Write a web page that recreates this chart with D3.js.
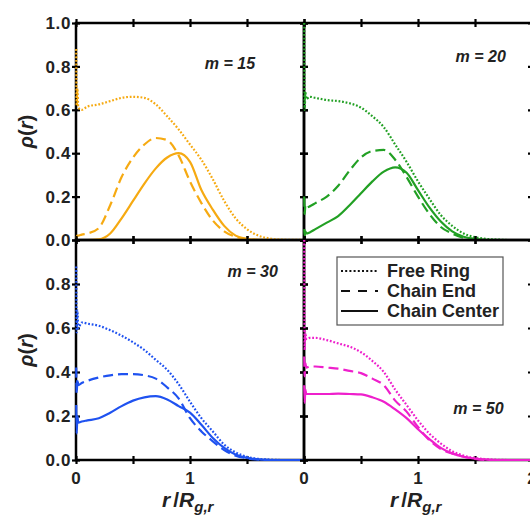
<!DOCTYPE html>
<html>
<head>
<meta charset="utf-8">
<script src="https://cdn.jsdelivr.net/npm/d3@7"></script>
<style>
  body { margin: 0; background: #fff; }
  svg { display: block; font-family: "Liberation Sans", Arial, sans-serif; }
</style>
</head>
<body>
<div id="chart"></div>
<script>
// radial positions (r / Rg,r) shared by every curve
var rGrid = [0.002, 0.006, 0.012, 0.02, 0.05, 0.1, 0.2, 0.3, 0.4, 0.5, 0.6, 0.7, 0.8, 0.9, 1.0, 1.1, 1.2, 1.3, 1.4, 1.5, 1.6, 1.7, 1.8, 2.0];

// m = 15
var freeRing15    = [0.88, 0.62, 0.70, 0.61, 0.60, 0.615, 0.625, 0.64, 0.655, 0.66, 0.655, 0.625, 0.57, 0.51, 0.44, 0.37, 0.28, 0.18, 0.10, 0.05, 0.02, 0.007, 0.002, 0];
var chainEnd15    = [0.01, 0.015, 0.02, 0.02, 0.025, 0.03, 0.055, 0.16, 0.29, 0.38, 0.44, 0.47, 0.46, 0.39, 0.27, 0.17, 0.09, 0.04, 0.015, 0.005, 0.001, 0, 0, 0];
var chainCenter15 = [0, 0, 0, 0, 0, 0, 0.003, 0.03, 0.10, 0.18, 0.26, 0.33, 0.38, 0.40, 0.36, 0.23, 0.14, 0.065, 0.02, 0.005, 0, 0, 0, 0];

// m = 20
var freeRing20    = [1.0, 0.60, 0.68, 0.65, 0.66, 0.655, 0.645, 0.64, 0.63, 0.61, 0.57, 0.52, 0.44, 0.36, 0.27, 0.19, 0.115, 0.065, 0.03, 0.013, 0.005, 0.002, 0, 0];
var chainEnd20    = [0.20, 0.12, 0.16, 0.15, 0.155, 0.17, 0.20, 0.25, 0.32, 0.38, 0.41, 0.415, 0.37, 0.29, 0.20, 0.12, 0.06, 0.03, 0.01, 0.003, 0, 0, 0, 0];
var chainCenter20 = [0.05, 0.02, 0.04, 0.03, 0.035, 0.05, 0.08, 0.11, 0.16, 0.215, 0.27, 0.315, 0.335, 0.31, 0.23, 0.15, 0.085, 0.04, 0.015, 0.005, 0, 0, 0, 0];

// m = 30
var freeRing30    = [0.88, 0.58, 0.68, 0.60, 0.625, 0.62, 0.61, 0.59, 0.565, 0.535, 0.50, 0.455, 0.41, 0.345, 0.265, 0.19, 0.13, 0.07, 0.035, 0.015, 0.005, 0.002, 0, 0];
var chainEnd30    = [0.42, 0.30, 0.37, 0.34, 0.35, 0.36, 0.375, 0.385, 0.39, 0.39, 0.385, 0.37, 0.33, 0.28, 0.19, 0.13, 0.085, 0.045, 0.02, 0.008, 0.002, 0, 0, 0];
var chainCenter30 = [0.25, 0.12, 0.20, 0.17, 0.175, 0.18, 0.19, 0.215, 0.245, 0.27, 0.285, 0.29, 0.275, 0.245, 0.215, 0.16, 0.10, 0.055, 0.025, 0.01, 0.003, 0, 0, 0];

// m = 50
var freeRing50    = [1.0, 0.50, 0.58, 0.55, 0.555, 0.555, 0.545, 0.53, 0.515, 0.49, 0.45, 0.40, 0.32, 0.25, 0.18, 0.12, 0.075, 0.04, 0.02, 0.009, 0.004, 0.001, 0, 0];
var chainEnd50    = [0.47, 0.38, 0.44, 0.42, 0.425, 0.425, 0.42, 0.415, 0.405, 0.395, 0.37, 0.34, 0.27, 0.22, 0.15, 0.09, 0.05, 0.03, 0.015, 0.005, 0, 0, 0, 0];
var chainCenter50 = [0.34, 0.26, 0.32, 0.30, 0.30, 0.30, 0.30, 0.302, 0.30, 0.298, 0.285, 0.265, 0.23, 0.19, 0.14, 0.095, 0.055, 0.03, 0.015, 0.006, 0.002, 0, 0, 0];

var panelLabels = ["m = 15", "m = 20", "m = 30", "m = 50"];
var seriesNames = ["Free Ring", "Chain End", "Chain Center"];
var yTickValues = [0, 0.2, 0.4, 0.6, 0.8, 1.0];
var xTickValues = [0, 0.5, 1, 1.5, 2];
var xLabelValues = [0, 1, 2];

var panelData = [
  [freeRing15, chainEnd15, chainCenter15],
  [freeRing20, chainEnd20, chainCenter20],
  [freeRing30, chainEnd30, chainCenter30],
  [freeRing50, chainEnd50, chainCenter50]
];

var colors = ["#f6aa12", "#22a024", "#1f52f0", "#ee20cc"];
var dashes = ["1.8,1.8", "10,5", null];

var svgWidth = 530, svgHeight = 523;
var left = 76, plotW = 228;
var rowTop = [23, 240], rowBottom = [240, 460];

var svg = d3.select("#chart")
  .append("svg")
  .attr("width", svgWidth)
  .attr("height", svgHeight);

// label positions in data units for each panel
var labelPos = [[1.35, 0.79], [1.55, 0.82], [1.55, 0.83], [1.53, 0.21]];

panelData.forEach(function(series, i) {
  var col = i % 2, row = Math.floor(i / 2);

  var xScale = d3.scaleLinear()
    .domain([0, 2])
    .range([left + col * plotW, left + (col + 1) * plotW]);

  var yScale = d3.scaleLinear()
    .domain([0, 1])
    .range([rowBottom[row], rowTop[row]]);

  var g = svg.append("g");

  // frame
  g.append("rect")
    .attr("x", xScale(0))
    .attr("y", yScale(1))
    .attr("width", xScale(2) - xScale(0))
    .attr("height", yScale(0) - yScale(1))
    .attr("fill", "none")
    .attr("stroke", "#000")
    .attr("stroke-width", 2.5);

  // ticks crossing the frame on all four sides
  var yAxisL = d3.axisLeft(yScale).tickValues(yTickValues).tickSize(4).tickFormat("");
  var yAxisR = d3.axisRight(yScale).tickValues(yTickValues).tickSize(4).tickFormat("");
  var xAxisB = d3.axisBottom(xScale).tickValues(xTickValues).tickSize(4).tickFormat("");
  var xAxisT = d3.axisTop(xScale).tickValues(xTickValues).tickSize(4).tickFormat("");

  [[yAxisL, xScale(0), 0], [yAxisR, xScale(2), 0], [xAxisB, 0, yScale(0)], [xAxisT, 0, yScale(1)]]
    .forEach(function(a) {
      var ax = g.append("g")
        .attr("transform", `translate(${a[1]}, ${a[2]})`)
        .call(a[0]);
      ax.select(".domain").remove();
      ax.selectAll(".tick line")
        .attr("stroke", "#000")
        .attr("stroke-width", 2.2);
      ax.selectAll(".tick line").each(function() {
        var l = d3.select(this);
        if (l.attr("x2") != null && +l.attr("x2") !== 0) l.attr("x1", -l.attr("x2"));
        if (l.attr("y2") != null && +l.attr("y2") !== 0) l.attr("y1", -l.attr("y2"));
      });
    });

  // y tick labels on the left column only
  if (col === 0) {
    g.selectAll(".ylab")
      .data(row === 0 ? yTickValues : yTickValues.slice(0, 5))
      .enter()
      .append("text")
      .attr("x", xScale(0) - 5)
      .attr("y", d => yScale(d))
      .attr("dy", "0.36em")
      .attr("text-anchor", "end")
      .attr("font-size", 17)
      .attr("font-weight", "bold")
      .attr("letter-spacing", 0.6)
      .attr("fill", "#222")
      .text(d => d.toFixed(1));

    g.append("text")
      .attr("transform", `translate(33, ${(yScale(0) + yScale(1)) / 2}) rotate(-90)`)
      .attr("text-anchor", "middle")
      .attr("font-size", 20)
      .attr("font-weight", "bold")
      .attr("fill", "#222")
      .html('<tspan font-style="italic">ρ</tspan>(<tspan font-style="italic">r</tspan>)');
  }

  // x tick labels and axis title on the bottom row
  if (row === 1) {
    g.selectAll(".xlab")
      .data(col === 0 ? xLabelValues.slice(0, 2) : xLabelValues)
      .enter()
      .append("text")
      .attr("x", d => xScale(d))
      .attr("y", yScale(0) + 24)
      .attr("text-anchor", "middle")
      .attr("font-size", 17)
      .attr("font-weight", "bold")
      .attr("fill", "#222")
      .text(d => d);

    g.append("text")
      .attr("x", xScale(0.98))
      .attr("y", 507)
      .attr("text-anchor", "middle")
      .attr("font-size", 21)
      .attr("font-weight", "bold")
      .attr("fill", "#222")
      .html('<tspan font-style="italic">r</tspan><tspan dx="3">/</tspan>' +
            '<tspan font-style="italic">R</tspan>' +
            '<tspan font-style="italic" font-size="15" dy="5">g,r</tspan>');
  }

  // curves
  var line = d3.line()
    .x((d, k) => xScale(rGrid[k]))
    .y(d => yScale(d))
    .curve(d3.curveMonotoneX);

  series.forEach(function(vals, s) {
    g.append("path")
      .datum(vals)
      .attr("d", line)
      .attr("fill", "none")
      .attr("stroke", colors[i])
      .attr("stroke-width", s === 0 ? 2.2 : 2.2)
      .attr("stroke-dasharray", dashes[s]);
  });

  // panel label
  g.append("text")
    .attr("x", xScale(labelPos[i][0]))
    .attr("y", yScale(labelPos[i][1]))
    .attr("text-anchor", "middle")
    .attr("font-size", 16)
    .attr("font-weight", "bold")
    .attr("font-style", "italic")
    .attr("fill", "#222")
    .text(panelLabels[i]);
});

// legend
var legend = svg.append("g");

legend.append("rect")
  .attr("x", 337)
  .attr("y", 257)
  .attr("width", 166)
  .attr("height", 68)
  .attr("fill", "#fff")
  .attr("stroke", "#555")
  .attr("stroke-width", 1.2);

var legendDash = ["2,2.2", "9,8", null];

seriesNames.forEach(function(name, s) {
  var y = 271 + s * 20;
  legend.append("line")
    .attr("x1", 341)
    .attr("x2", 378)
    .attr("y1", y)
    .attr("y2", y)
    .attr("stroke", "#111")
    .attr("stroke-width", 2.2)
    .attr("stroke-dasharray", legendDash[s]);
  legend.append("text")
    .attr("x", 387)
    .attr("y", y)
    .attr("dy", "0.36em")
    .attr("font-size", 18)
    .attr("font-weight", "bold")
    .attr("fill", "#222")
    .text(name);
});
</script>
</body>
</html>
